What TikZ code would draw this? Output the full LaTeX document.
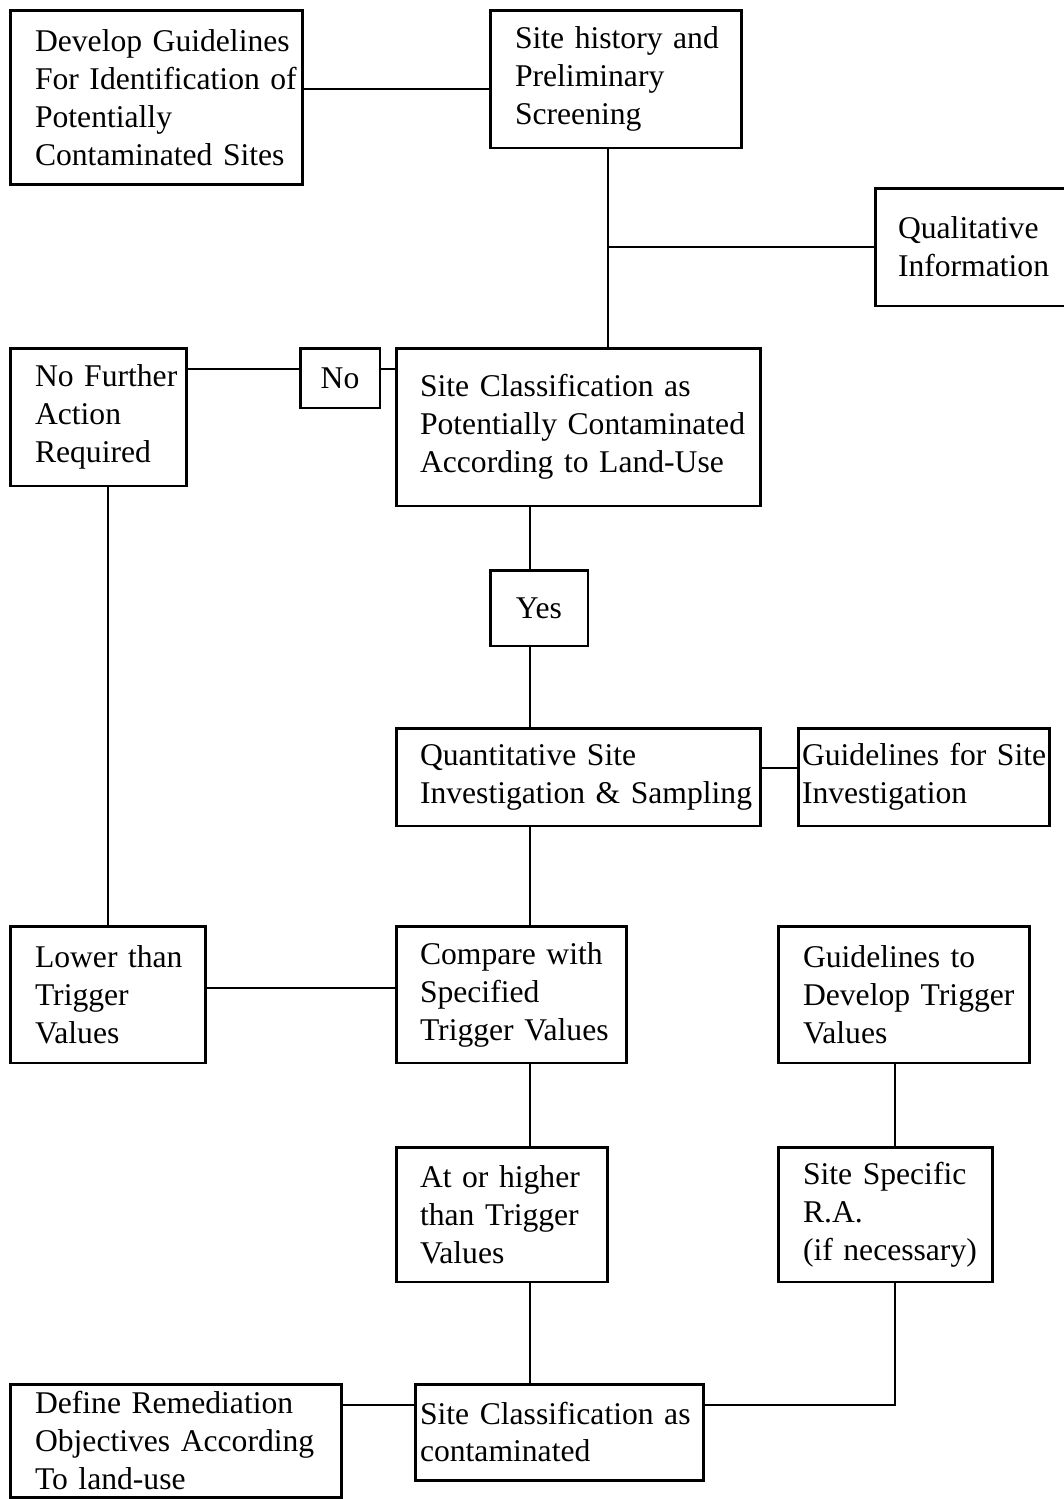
\documentclass[tikz,border=0pt]{standalone}
\usepackage{fontspec}
\setmainfont{Liberation Serif}
\tikzset{
  box/.style={draw, line width=1.7pt, inner sep=0pt, text width=#1, align=left,
    font=\fontsize{18}{21.6}\selectfont},
  lpad/.style={execute at begin node={\leftskip=#1\relax}},
  link/.style={line width=0.9pt},
}
\begin{document}
\begin{tikzpicture}[x=0.02cm,y=-0.02cm]
\useasboundingbox (0,0) rectangle (1064,1499);
% boxes
\node[box=5.86cm, lpad=0.5cm, minimum height=3.5cm] (dev) at (156.5,97.5)
  {Develop Guidelines\\For Identification of\\Potentially\\Contaminated Sites};
\node[box=5.04cm, lpad=0.5cm, minimum height=2.76cm] (hist) at (616,79)
  {Site history and\\Preliminary\\Screening};
\node[box=3.94cm, lpad=0.46cm, minimum height=2.36cm] (qual) at (973.5,247)
  {Qualitative\\Information};
\node[box=3.54cm, lpad=0.5cm, minimum height=2.76cm] (nfa) at (98.5,417)
  {No Further\\Action\\Required};
\node[box=1.6cm, align=center, minimum height=1.2cm] (no) at (340,378) {No};
\node[box=7.3cm, lpad=0.48cm, minimum height=3.16cm] (cls) at (578.5,427)
  {Site Classification as\\Potentially Contaminated\\According to Land-Use};
\node[box=1.96cm, align=center, minimum height=1.52cm] (yes) at (539,608) {Yes};
\node[box=7.3cm, lpad=0.48cm, minimum height=1.96cm] (quant) at (578.5,777)
  {Quantitative Site\\Investigation \& Sampling};
\node[box=5.04cm, lpad=0.08cm, minimum height=1.96cm] (gsi) at (924,777)
  {Guidelines for Site\\Investigation};
\node[box=3.92cm, lpad=0.5cm, minimum height=2.74cm] (low) at (108,994.5)
  {Lower than\\Trigger\\Values};
\node[box=4.62cm, lpad=0.48cm, minimum height=2.74cm] (cmp) at (511.5,994.5)
  {Compare with\\Specified\\Trigger Values};
\node[box=5.04cm, lpad=0.5cm, minimum height=2.74cm] (gdev) at (904,994.5)
  {Guidelines to\\Develop Trigger\\Values};
\node[box=4.24cm, lpad=0.48cm, minimum height=2.7cm] (high) at (502,1214.5)
  {At or higher\\than Trigger\\Values};
\node[box=4.3cm, lpad=0.5cm, minimum height=2.7cm] (ssra) at (885.5,1214.5)
  {Site Specific\\R.A.\\(if necessary)};
\node[box=6.64cm, lpad=0.5cm, minimum height=2.26cm] (def) at (176,1440.5)
  {Define Remediation\\Objectives According\\To land-use};
\node[box=5.78cm, lpad=0.1cm, minimum height=1.92cm] (cont) at (559.5,1432)
  {Site Classification as\\contaminated};
% guide lines for the connectors
\coordinate (trunk) at (608,0);
\coordinate (spine) at (530,0);
\coordinate (toprow) at (0,89);
\coordinate (norow) at (0,369);
\coordinate (qrow) at (0,768);
\coordinate (crow) at (0,988);
\coordinate (rax) at (895,1405);
% connectors
\draw[link] (dev.east |- toprow) -- (hist.west |- toprow);
\draw[link] (hist.south -| trunk) -- (cls.north -| trunk);
\draw[link] (qual.west) -- (qual.west -| trunk);
\draw[link] (nfa.east |- norow) -- (no.west |- norow);
\draw[link] (no.east |- norow) -- (cls.west |- norow);
\draw[link] (nfa.south -| low.north) -- (low.north);
\draw[link] (cls.south -| spine) -- (yes.north -| spine);
\draw[link] (yes.south -| spine) -- (quant.north -| spine);
\draw[link] (quant.east |- qrow) -- (gsi.west |- qrow);
\draw[link] (quant.south -| spine) -- (cmp.north -| spine);
\draw[link] (low.east |- crow) -- (cmp.west |- crow);
\draw[link] (cmp.south -| spine) -- (high.north -| spine);
\draw[line width=1.5pt] (gdev.south -| rax) -- (ssra.north -| rax);
\draw[link] (high.south -| spine) -- (cont.north -| spine);
\draw[line width=1.2pt] (ssra.south -| rax) -- (rax) -- (cont.east |- rax);
\draw[link] (def.east |- rax) -- (cont.west |- rax);
\end{tikzpicture}
\end{document}
